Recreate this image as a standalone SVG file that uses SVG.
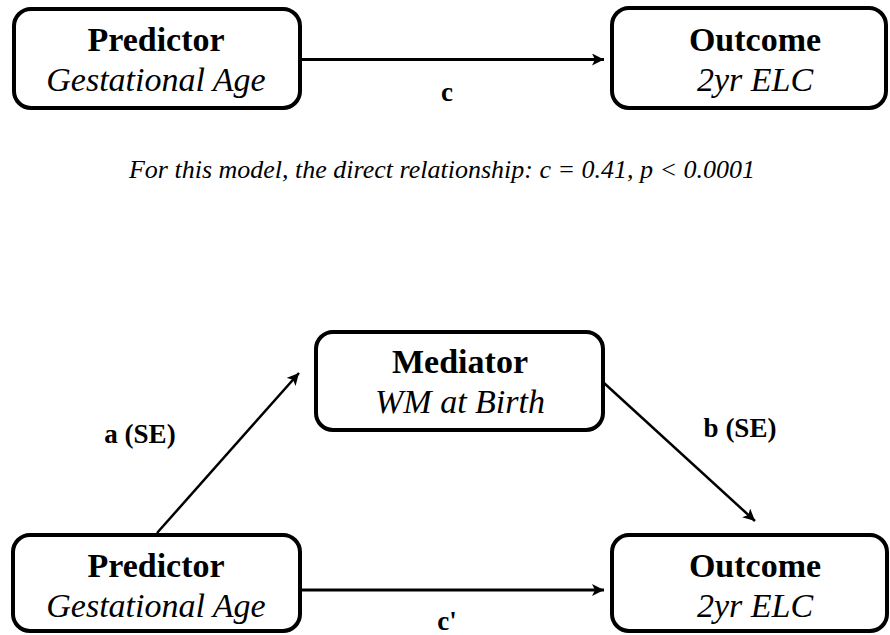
<svg xmlns="http://www.w3.org/2000/svg" width="890" height="635" viewBox="0 0 890 635">
<style>
.box{fill:#fff;stroke:#000;stroke-width:4}
text{font-family:'Liberation Serif','Times New Roman',Times,Tinos,'Noto Serif','DejaVu Serif',FreeSerif,serif;text-anchor:middle;fill:#000}
.b{font-weight:bold;font-size:34px}
.i{font-style:italic;font-size:34px}
.lbl{font-weight:bold;font-size:27px}
.cap{font-style:italic;font-size:26px}
.ln{stroke:#000;fill:none}
</style>
<defs>
<marker id="ah" markerUnits="userSpaceOnUse" markerWidth="14" markerHeight="12" refX="12" refY="6" orient="auto">
<path d="M0,0 L12,6 L0,12 L3,6 Z" fill="#000"/>
</marker>
</defs>
<rect width="890" height="635" fill="#fff"/>
<g id="connectors">
<line class="ln" x1="300" y1="59.5" x2="604" y2="59.5" stroke-width="3" marker-end="url(#ah)"/>
<line class="ln" x1="157" y1="533" x2="299" y2="373" stroke-width="2.5" marker-end="url(#ah)"/>
<line class="ln" x1="604" y1="383" x2="755" y2="521" stroke-width="2.5" marker-end="url(#ah)"/>
<line class="ln" x1="300" y1="590" x2="604" y2="590" stroke-width="3" marker-end="url(#ah)"/>
<text class="lbl" x="447" y="101">c</text>
<text class="lbl" x="140" y="443">a (SE)</text>
<text class="lbl" x="740" y="437">b (SE)</text>
<text class="lbl" x="447" y="630">c'</text>
</g>
<g id="predictor1">
<rect class="box" x="14" y="9" width="286" height="99" rx="17"/>
<text class="b" x="156" y="51">Predictor</text>
<text class="i" x="156" y="91">Gestational Age</text>
</g>
<g id="outcome1">
<rect class="box" x="612" y="8" width="274" height="100" rx="17"/>
<text class="b" x="755" y="51">Outcome</text>
<text class="i" x="755" y="91">2yr ELC</text>
</g>
<g id="caption">
<text class="cap" x="442" y="178">For this model, the direct relationship: c = 0.41, p &lt; 0.0001</text>
</g>
<g id="mediator">
<rect class="box" x="316" y="332" width="287" height="98" rx="17"/>
<text class="b" x="460" y="373">Mediator</text>
<text class="i" x="460" y="413">WM at Birth</text>
</g>
<g id="predictor2">
<rect class="box" x="13" y="535" width="287" height="96" rx="17"/>
<text class="b" x="156" y="577">Predictor</text>
<text class="i" x="156" y="617">Gestational Age</text>
</g>
<g id="outcome2">
<rect class="box" x="612" y="535" width="275" height="96" rx="17"/>
<text class="b" x="755" y="577">Outcome</text>
<text class="i" x="755" y="617">2yr ELC</text>
</g>
</svg>
